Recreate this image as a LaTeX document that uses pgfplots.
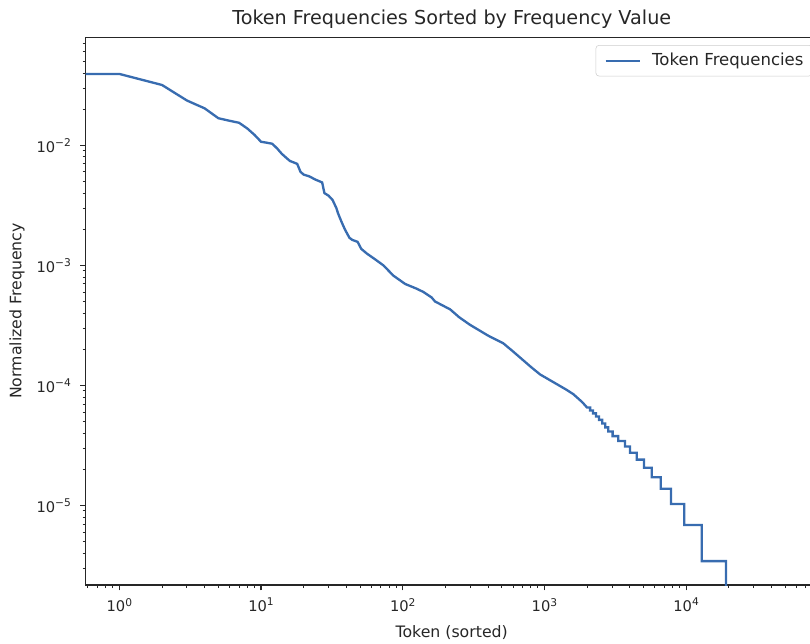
\documentclass[border=0pt]{standalone}
\usepackage{fontspec}
\setmainfont{DejaVu Sans}
\usepackage{pgfplots}
\pgfplotsset{compat=1.18}

\definecolor{lineblue}{RGB}{56,108,176}
\definecolor{ink}{RGB}{38,38,38}

% power-of-ten tick label, superscript sized like matplotlib's mathtext
\newcommand{\tp}[1]{10\raisebox{4.4pt}{\fontsize{8}{9}\selectfont #1}}

\begin{document}
\begin{tikzpicture}
% the reference is cropped on the right: keep the same window
\useasboundingbox (-64.3pt,-43.5pt) rectangle (543.2pt,438.75pt);
\clip (-64.3pt,-43.5pt) rectangle (543.2pt,438.75pt);
\begin{axis}[
  at={(0,0)}, anchor=south west,
  scale only axis,
  width=549pt, height=410.8pt,
  xmode=log, ymode=log,
  xmin=0.579, xmax=84900,
  ymin=2.175e-6, ymax=0.0794,
  axis line style={ink, line width=0.9pt},
  tick align=outside,
  xtick pos=bottom, ytick pos=left,
  major tick length=4.1pt, minor tick length=2.35pt,
  every tick/.style={ink, line width=0.9pt},
  every minor tick/.style={ink, line width=0.7pt},
  xtick={1,10,100,1000,10000},
  xticklabels={\tp{0},\tp{1},\tp{2},\tp{3},\tp{4}},
  minor xtick={0.6,0.7,0.8,0.9,2,3,4,5,6,7,8,9,20,30,40,50,60,70,80,90,200,300,400,500,600,700,800,900,2000,3000,4000,5000,6000,7000,8000,9000,20000,30000,40000,50000,60000,70000,80000},
  ytick={1e-5,1e-4,1e-3,1e-2},
  yticklabels={\tp{−5},\tp{−4},\tp{−3},\tp{−2}},
  minor ytick={3e-6,4e-6,5e-6,6e-6,7e-6,8e-6,9e-6,2e-5,3e-5,4e-5,5e-5,6e-5,7e-5,8e-5,9e-5,2e-4,3e-4,4e-4,5e-4,6e-4,7e-4,8e-4,9e-4,2e-3,3e-3,4e-3,5e-3,6e-3,7e-3,8e-3,9e-3,2e-2,3e-2,4e-2,5e-2,6e-2,7e-2},
  ticklabel style={font=\fontsize{11}{13}\selectfont, text=ink},
  xticklabel style={yshift=-2.2pt},
  yticklabel style={xshift=-3.5pt},
  title={Token Frequencies Sorted by Frequency Value},
  title style={at={(axis description cs:0.5,1.008)}, anchor=base, font=\fontsize{14.4}{17}\selectfont, text=ink},
  xlabel={Token (sorted)},
  xlabel style={at={(axis description cs:0.5,-0.0950)}, anchor=base, font=\fontsize{11.8}{14}\selectfont, text=ink},
  ylabel={Normalized Frequency},
  ylabel style={at={(axis description cs:-0.0938,0.5)}, anchor=center, font=\fontsize{11.8}{14}\selectfont, text=ink},
  legend style={at={(axis description cs:1,1)}, anchor=north east,
    xshift=-4pt, yshift=-5.8pt, draw=black!20, rounded corners=2.5pt,
    fill=white, inner xsep=6.5pt, inner ysep=6.1pt,
    nodes={inner sep=0pt},
    font=\fontsize{12.4}{14}\selectfont, text=ink},
  legend cell align=left,
  legend image code/.code={%
    \draw[#1, line width=1.75pt] (0pt,0pt) -- (25.5pt,0pt);
    \path (34pt,0pt);},
]
\addplot[lineblue, line width=1.75pt] coordinates {
  (0.5,0.0393) (1,0.0393) (2,0.0318) (3,0.0236) (4,0.0203) (5,0.0168)
  (6,0.0160) (7,0.0154) (8,0.0138) (9,0.0122) (10,0.0107) (11,0.0105)
  (12,0.0103) (13,0.0094) (14,0.0085) (15,0.0079) (16,0.0074) (17,0.0072)
  (18,0.0070) (19,0.0060) (20,0.0057) (22,0.0055) (24,0.0052) (26,0.0050)
  (27,0.0049) (28,0.0040) (30,0.0038) (32,0.0035) (34,0.0030) (35,0.0027)
  (37,0.0023) (39,0.0020) (42,0.0017) (44,0.00163) (48,0.00157) (51,0.00137)
  (56,0.00125) (64,0.00112) (73,0.00100) (86,0.00082) (104,0.00070)
  (125,0.00064) (140,0.00060) (160,0.00054) (169,0.00050) (216,0.00043)
  (250,0.00037) (298,0.00032) (400,0.00026) (513,0.000224) (603,0.000191)
  (800,0.000143) (931,0.0001235) (1222,0.0001025) (1420,0.0000925)
  (1600,0.0000845) (1850,0.0000725) (2000,0.0000654)
  (2100,0.0000654) (2100,0.0000619) (2200,0.0000619) (2200,0.0000585)
  (2310,0.0000585) (2310,0.0000550) (2430,0.0000550) (2430,0.0000516)
  (2560,0.0000516) (2560,0.0000482) (2690,0.0000482) (2690,0.0000447)
  (2820,0.0000447) (2820,0.0000413) (3030,0.0000413) (3030,0.0000378)
  (3320,0.0000378) (3320,0.0000344) (3700,0.0000344) (3700,0.0000310)
  (4020,0.0000310) (4020,0.0000275) (4480,0.0000275) (4480,0.0000241)
  (5050,0.0000241) (5050,0.0000206) (5720,0.0000206) (5720,0.0000172)
  (6620,0.0000172) (6620,0.0000138) (7820,0.0000138) (7820,0.0000103)
  (9710,0.0000103) (9710,0.00000688) (12880,0.00000688) (12880,0.00000344)
  (19140,0.00000344) (19140,0.0000001)
};
\addlegendentry{Token Frequencies}
\end{axis}
\end{tikzpicture}
\end{document}
